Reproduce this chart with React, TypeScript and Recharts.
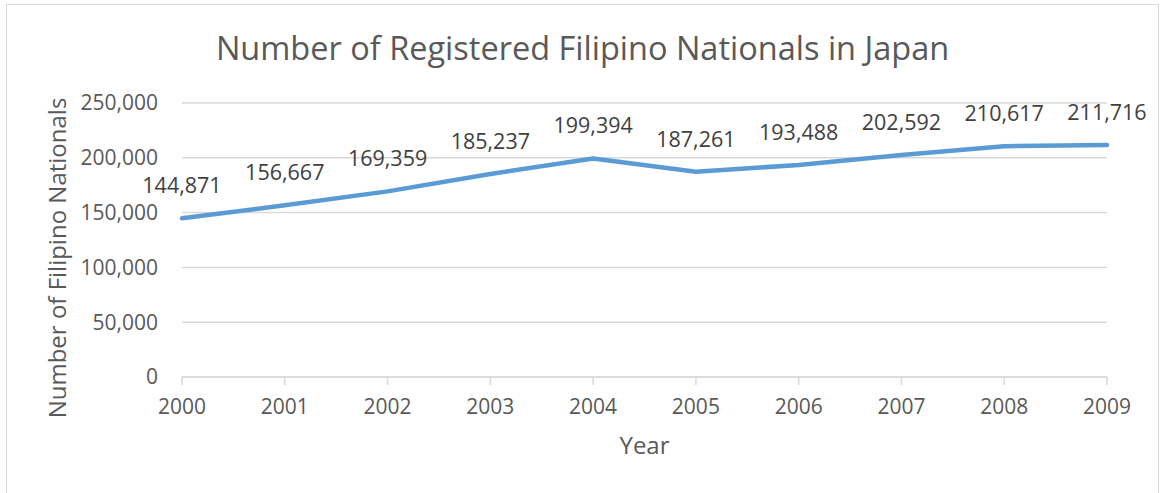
import React from 'react'
import {
  LineChart,
  Line,
  XAxis,
  YAxis,
  CartesianGrid,
  LabelList,
  Label
} from 'recharts'

const years = ['2000', '2001', '2002', '2003', '2004', '2005', '2006', '2007', '2008', '2009']
const filipinos = [144871, 156667, 169359, 185237, 199394, 187261, 193488, 202592, 210617, 211716]
const yTicks = [0, 50000, 100000, 150000, 200000, 250000]

const data = years.map((year, i) => ({ year, value: filipinos[i] }))

const font = '"Open Sans", sans-serif'
const textColor = '#595959'
const gridColor = '#d9d9d9'

const fmt = (v: number) => v.toLocaleString('en-US')

const YTitle = ({ viewBox }: any) => {
  const cx = viewBox.x - 26
  const cy = viewBox.y + viewBox.height / 2 + 18
  return (
    <text
      x={cx}
      y={cy}
      transform={`rotate(-90, ${cx}, ${cy})`}
      textAnchor="middle"
      dominantBaseline="central"
      fill={textColor}
      fontSize={24}
      fontFamily={font}
    >
      Number of Filipino Nationals
    </text>
  )
}

export default function App() {
  return (
    <div style={{ position: 'absolute', left: 0, top: 0, width: 1165, height: 493, background: '#fff' }}>
      <div
        style={{
          position: 'absolute',
          left: 6,
          top: 4,
          width: 1153,
          height: 500,
          border: `1.5px solid ${gridColor}`,
          boxSizing: 'border-box'
        }}
      />
      <div
        style={{
          position: 'absolute',
          left: 0,
          top: 25,
          width: 1165,
          textAlign: 'center',
          fontFamily: font,
          fontSize: 32.5,
          lineHeight: '46px',
          color: textColor
        }}
      >
        Number of Registered Filipino Nationals in Japan
      </div>
      <LineChart
        width={1165}
        height={493}
        data={data}
        margin={{ top: 103, right: 58, left: 82, bottom: 36 }}
        style={{ position: 'absolute', left: 0, top: 0 }}
      >
        <CartesianGrid vertical={false} stroke={gridColor} strokeWidth={1.5} />
        <XAxis
          dataKey="year"
          height={80}
          stroke={gridColor}
          strokeWidth={1.5}
          tickSize={8}
          tickMargin={14}
          tick={{ fill: textColor, fontSize: 21, fontFamily: font }}
          interval={0}
        >
          <Label
            value="Year"
            position="insideBottom"
            offset={3}
            fill={textColor}
            fontSize={24}
            fontFamily={font}
          />
        </XAxis>
        <YAxis
          width={100}
          domain={[0, 250000]}
          ticks={yTicks}
          tickFormatter={fmt}
          axisLine={false}
          tickLine={false}
          tickSize={0}
          tickMargin={24}
          tick={{ fill: textColor, fontSize: 21, fontFamily: font }}
        >
          <Label content={<YTitle />} />
        </YAxis>
        <Line
          type="linear"
          dataKey="value"
          stroke="#5b9bd5"
          strokeWidth={4.5}
          strokeLinecap="round"
          strokeLinejoin="round"
          dot={false}
          isAnimationActive={false}
        >
          <LabelList
            dataKey="value"
            position="top"
            offset={25}
            formatter={(v: any) => fmt(Number(v))}
            fill="#404040"
            fontSize={21.5}
            fontFamily={font}
          />
        </Line>
      </LineChart>
    </div>
  )
}
